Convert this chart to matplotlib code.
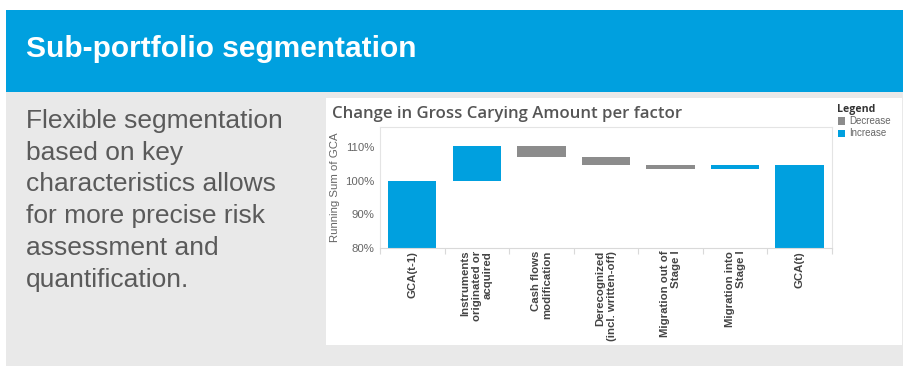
import matplotlib
matplotlib.use("Agg")
import matplotlib.pyplot as plt
from matplotlib.patches import Rectangle
import numpy as np

# ---- data -------------------------------------------------------------
categories = [
    "GCA(t-1)",
    "Instruments\noriginated or\nacquired",
    "Cash flows\nmodification",
    "Derecognized\n(incl. written-off)",
    "Migration out of\nStage I",
    "Migration into\nStage I",
    "GCA(t)",
]
start_value = 100.0                       # GCA(t-1), % of opening amount
changes = [10.3, -3.3, -2.4, -1.3, 1.2]   # factor contributions, %
y_ticks = [80, 90, 100, 110]
y_tick_labels = ["80%", "90%", "100%", "110%"]
legend_labels = ["Decrease", "Increase"]
body_lines = [
    "Flexible segmentation",
    "based on key",
    "characteristics allows",
    "for more precise risk",
    "assessment and",
    "quantification.",
]

BLUE = "#00a0df"
GREY_BAR = "#8c8c8c"
PANEL = "#e9e9e9"

W, H = 904, 368
fig = plt.figure(figsize=(W / 100, H / 100), dpi=100)
fig.patch.set_facecolor("white")


def fx(px):
    return px / W


def fy(py):
    return 1 - py / H


def backdrop(x0, y0, x1, y1, color):
    fig.patches.append(Rectangle((fx(x0), fy(y1)), fx(x1 - x0), (y1 - y0) / H,
                                 transform=fig.transFigure, facecolor=color,
                                 edgecolor="none", zorder=-10))


# ---- slide background --------------------------------------------------
backdrop(6, 10, 904, 92, BLUE)
backdrop(6, 92, 904, 366, PANEL)
backdrop(326, 98, 902, 345, "white")

fig.text(fx(26), fy(49), "Sub-portfolio segmentation", color="white",
         fontsize=21.5, fontweight="bold", family="Liberation Sans",
         va="center", ha="left")

for i, line in enumerate(body_lines):
    fig.text(fx(26), fy(128 + i * 31.7), line, color="#5a5a5a",
             fontsize=19, family="Liberation Sans",
             va="baseline", ha="left")

# ---- waterfall chart ----------------------------------------------------
ax = fig.add_axes([fx(380), fy(248), fx(832 - 380), (248 - 127) / H])
ax.set_facecolor("white")
ax.set_zorder(1)

levels = [start_value]
for c in changes:
    levels.append(levels[-1] + c)
end_value = levels[-1]

x = np.arange(len(categories))
bw = 0.75
# opening and closing totals
ax.bar(x[0], start_value, bottom=0, width=bw, color=BLUE, zorder=2)
ax.bar(x[-1], end_value, bottom=0, width=bw, color=BLUE, zorder=2)
# factor steps
for i, c in enumerate(changes):
    lo = min(levels[i], levels[i + 1])
    ax.bar(x[i + 1], abs(c), bottom=lo, width=bw,
           color=BLUE if c > 0 else GREY_BAR, zorder=2)

ax.set_xlim(-0.5, len(categories) - 0.5)
ax.set_ylim(80, 115.9)
ax.set_yticks(y_ticks)
ax.set_yticklabels(y_tick_labels, fontsize=8.2, color="#666666",
                   family="Liberation Sans")
ax.tick_params(axis="y", length=0, pad=4)

ax.set_xticks(x)
ax.set_xticklabels(categories, rotation=90, ha="center", va="top",
                   multialignment="right", fontsize=8.2, fontweight="bold",
                   color="#444444", family="Liberation Sans",
                   linespacing=1.15)
ax.tick_params(axis="x", which="major", length=0, pad=2)
ax.set_xticks(np.arange(-0.5, len(categories)), minor=True)
ax.tick_params(axis="x", which="minor", length=4, color="#d9d9d9", width=0.8)

for side in ["top", "right", "left"]:
    ax.spines[side].set_color("#e4e4e4")
    ax.spines[side].set_linewidth(0.8)
ax.spines["bottom"].set_color("#d9d9d9")
ax.spines["bottom"].set_linewidth(0.8)

ax.set_ylabel("Running Sum of GCA", fontsize=8.2, color="#666666",
              family="Liberation Sans")
ax.yaxis.set_label_coords(fx(340 - 380) / fx(832 - 380), 0.5)

fig.text(fx(332), fy(117.5), "Change in Gross Carying Amount per factor",
         color="#555555", fontsize=12.1, fontweight="semibold",
         family="Open Sans", va="baseline", ha="left")

# ---- legend ------------------------------------------------------------
fig.text(fx(837), fy(112.5), "Legend", color="#333333", fontsize=7.6,
         fontweight="bold", family="Open Sans", va="baseline", ha="left")
for i, (lab, col) in enumerate(zip(legend_labels, [GREY_BAR, BLUE])):
    cy = 121 + i * 12
    fig.patches.append(Rectangle((fx(838), fy(cy + 3.5)), fx(7), 7 / H,
                                 transform=fig.transFigure, facecolor=col,
                                 edgecolor="none"))
    fig.text(fx(849), fy(cy), lab, color="#666666", fontsize=7,
             family="Liberation Sans", va="center", ha="left")

fig.savefig("out.png", dpi=100, facecolor=fig.get_facecolor())
